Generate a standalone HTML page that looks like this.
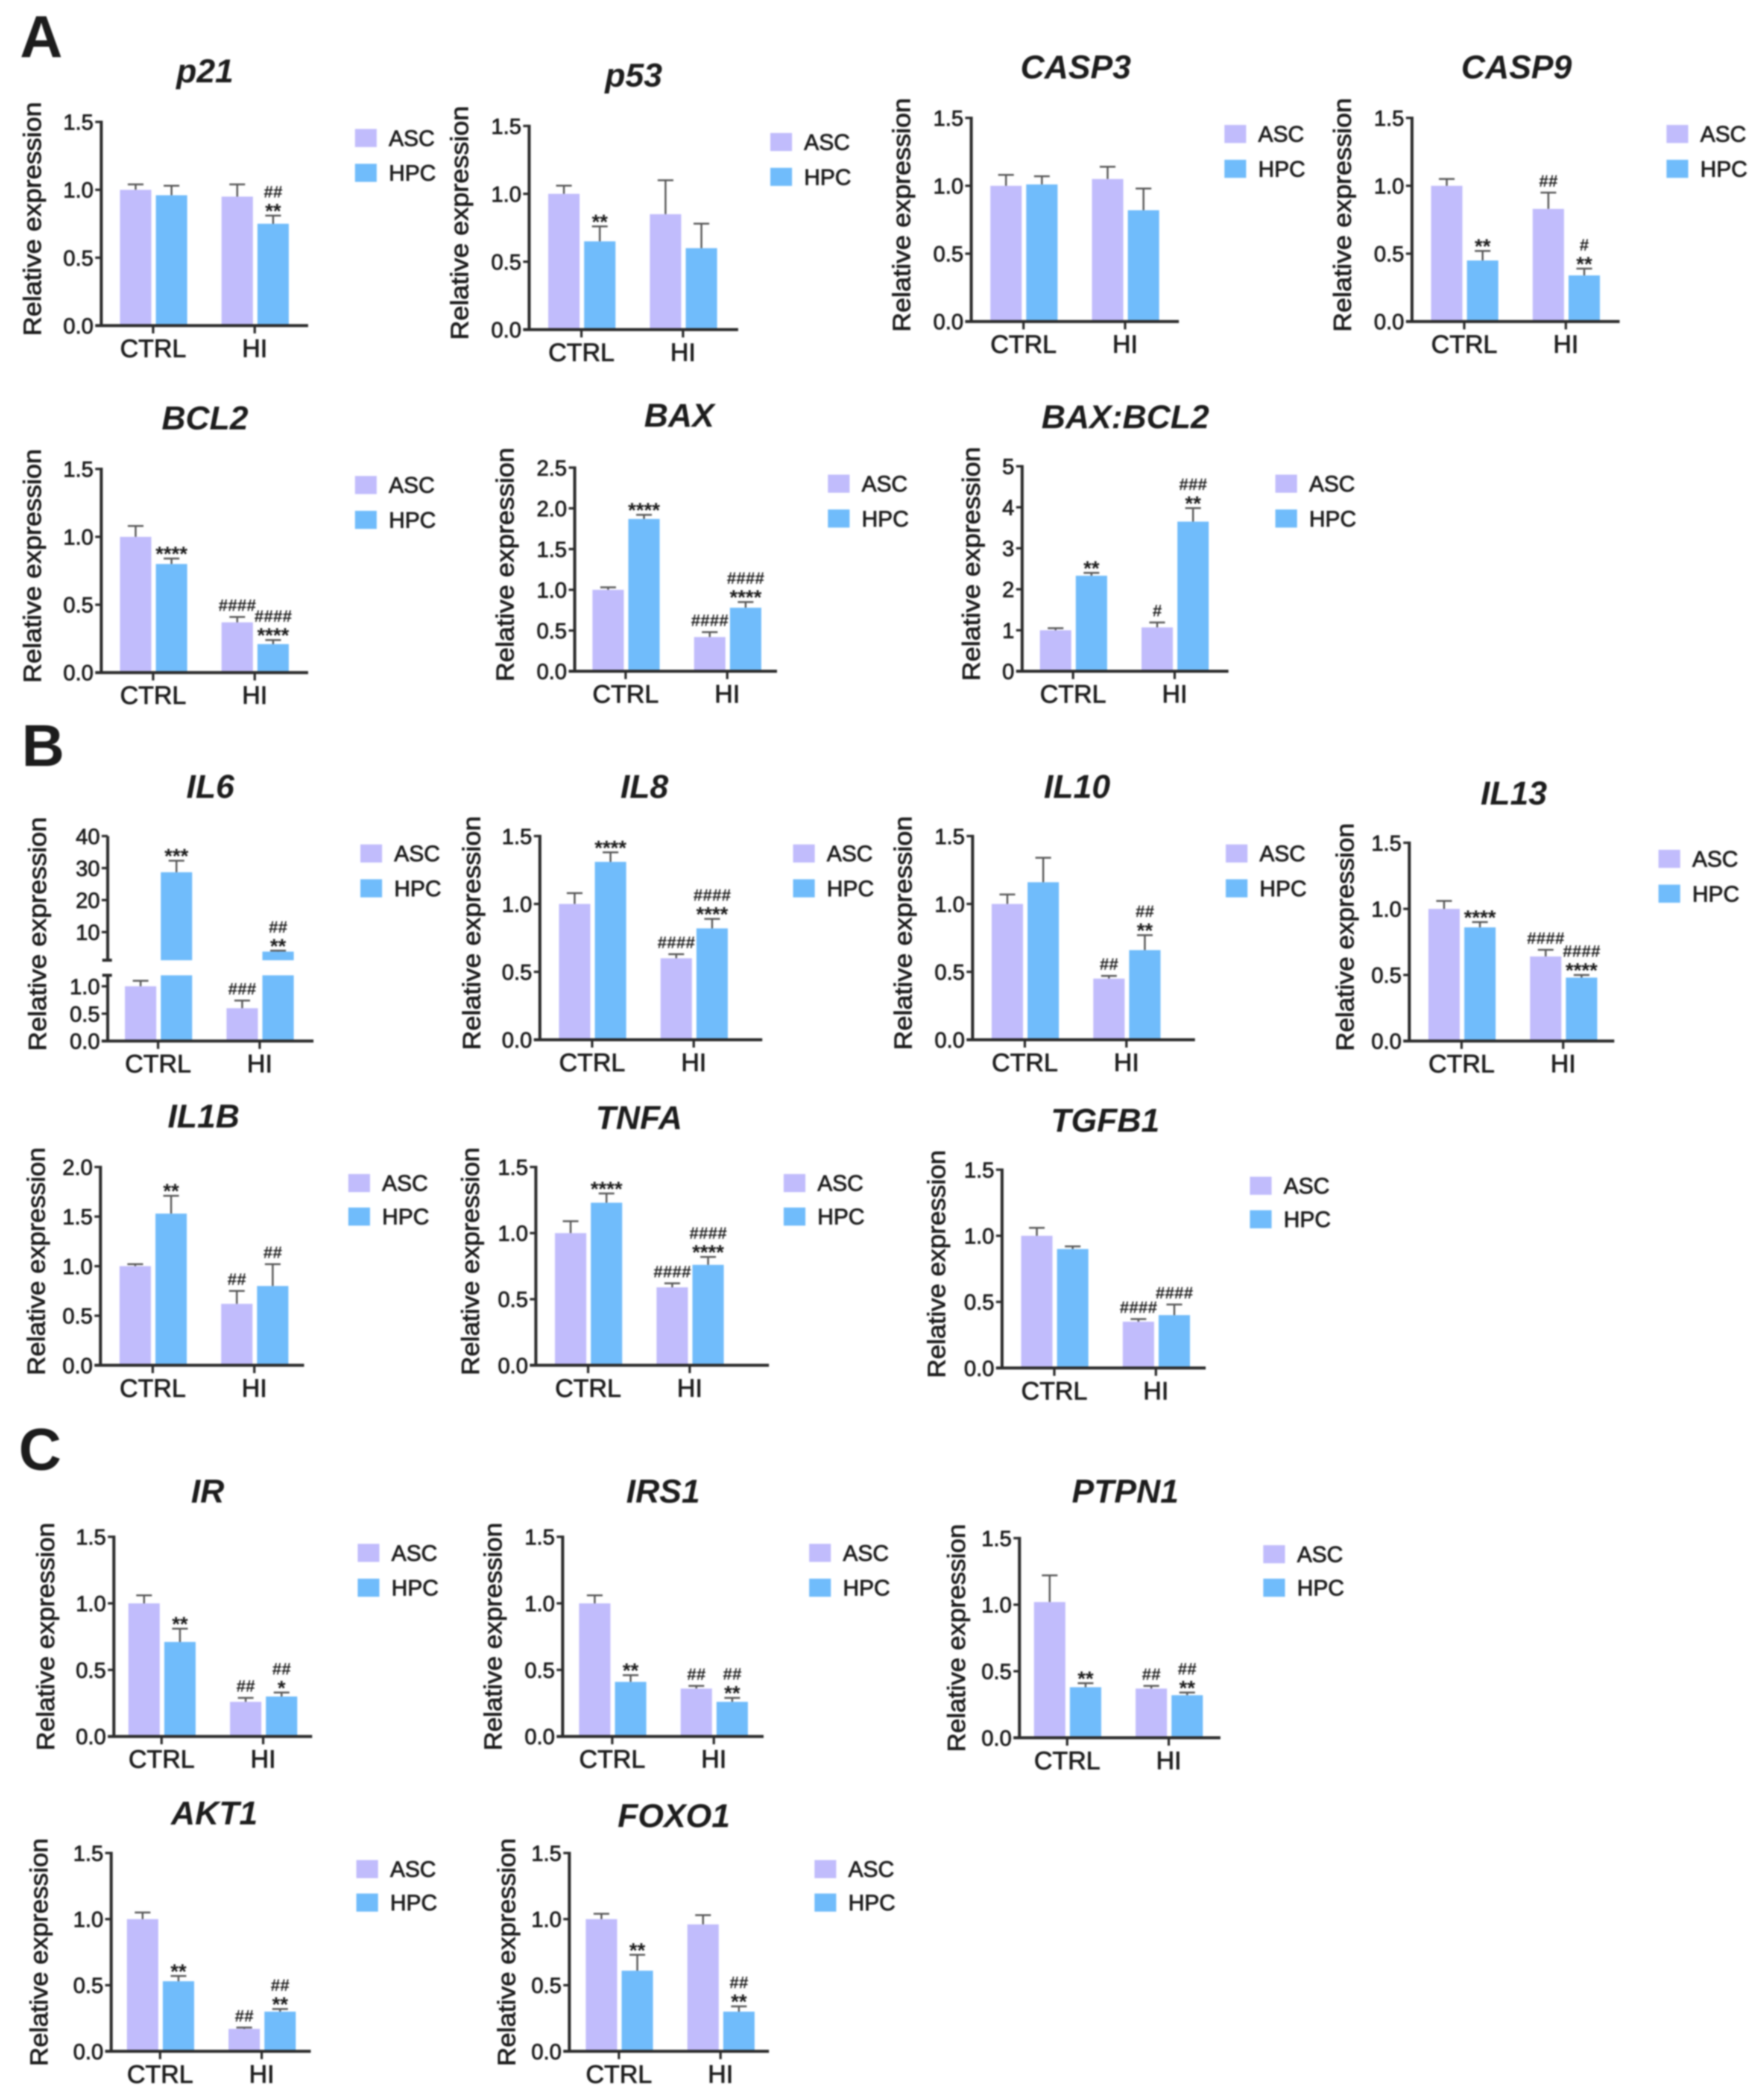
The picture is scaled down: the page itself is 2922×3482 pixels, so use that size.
<!DOCTYPE html>
<html lang="en">
<head>
<meta charset="utf-8">
<title>Relative expression bar charts</title>
<style>
html,body{margin:0;padding:0;background:#fff;width:2922px;height:3482px;overflow:hidden}
#figure{display:block;filter:blur(1.2px)}
text{font-family:"Liberation Sans",sans-serif;fill:#1c1c1c}
.lab{stroke:#1c1c1c;stroke-width:1px}
</style>
</head>
<body>
<svg id="figure" xmlns="http://www.w3.org/2000/svg" width="2922" height="3482" viewBox="0 0 2922 3482">
  <text x="33" y="95" font-size="98" font-weight="700">A</text>
  <text x="36" y="1270" font-size="98" font-weight="700">B</text>
  <text x="31" y="2437" font-size="98" font-weight="700">C</text>
</svg>
<script>
// ---- chart data ----
const groupLabels = ['CTRL', 'HI'];
const seriesLabels = ['ASC', 'HPC'];
const yAxisTitle = 'Relative expression';
const genes = ['p21','p53','CASP3','CASP9','BCL2','BAX','BAX:BCL2','IL6','IL8','IL10','IL13','IL1B','TNFA','TGFB1','IR','IRS1','PTPN1','AKT1','FOXO1'];
const ascMeans = [[1,.95],[1,.85],[1,1.05],[1,.83],[1,.37],[1,.42],[1,1.07],[1,.6],[1,.6],[1,.45],[1,.64],[1,.62],[1,.59],[1,.35],[1,.26],[1,.36],[1.02,.37],[1,.17],[1,.96]];
const hpcMeans = [[.96,.75],[.65,.6],[1.01,.82],[.45,.34],[.8,.21],[1.87,.78],[2.33,3.65],[28.7,3.9],[1.31,.82],[1.16,.66],[.86,.48],[1.53,.8],[1.23,.76],[.9,.4],[.71,.3],[.41,.26],[.38,.32],[.53,.3],[.61,.3]];
const ascErrors = [[.04,.09],[.06,.25],[.08,.09],[.05,.12],[.08,.04],[.03,.06],[.05,.12],[.1,.14],[.08,.03],[.07,.02],[.06,.05],[.02,.13],[.09,.03],[.06,.02],[.06,.03],[.06,.02],[.2,.02],[.05,.01],[.04,.07]];
const hpcErrors = [[.07,.06],[.11,.18],[.06,.16],[.07,.05],[.04,.03],[.05,.07],[.07,.33],[3.6,.3],[.07,.07],[.18,.11],[.04,.02],[.18,.22],[.07,.06],[.02,.08],[.1,.03],[.05,.03],[.03,.02],[.04,.02],[.12,.04]];
const ascMarks = [['',''],['',''],['',''],['','##'],['','####'],['','####'],['','#'],['','###'],['','####'],['','##'],['','####'],['','##'],['','####'],['','####'],['','##'],['','##'],['','##'],['','##'],['','']];
const hpcMarks = [['','**|##'],['**',''],['',''],['**','**|#'],['****','****|####'],['****','****|####'],['**','**|###'],['***','**|##'],['****','****|####'],['','**|##'],['****','****|####'],['**','##'],['****','****|####'],['','####'],['**','*|##'],['**','**|##'],['**','**|##'],['**','**|##'],['**','**|##']];
const tickLabelsDefault = ['0.0','0.5','1.0','1.5'];
const tickLabelsBax = ['0.0','0.5','1.0','1.5','2.0','2.5'];
const tickLabelsRatio = ['0','1','2','3','4','5'];
const tickLabelsIl1b = ['0.0','0.5','1.0','1.5','2.0'];
const tickLabelsBrokenLow = ['0.0','0.5','1.0'];
const tickLabelsBrokenHigh = ['10','20','30','40'];
const brokenAxisLimits = [1.2, 40];

// ---- layout (separate from data), in units of the page scale ----
const unit = 2.2216;
const panelLayout = [
 {ax:75.6,cx:114.3,end:230,top:91,y0:243,title:153,ty:53,leg:265,ly:[103,129],yl:24},
 {ax:395,cx:434,end:551,top:94,y0:246,title:473,ty:56,leg:575,ly:[106,132],yl:343},
 {ax:725,cx:764,end:880,top:88,y0:240,title:803,ty:50,leg:914,ly:[100,126],yl:673},
 {ax:1054,cx:1093,end:1209,top:88,y0:240,title:1132,ty:50,leg:1244,ly:[100,126],yl:1002},
 {ax:75.6,cx:114.3,end:230,top:350,y0:502,title:153,ty:312,leg:265,ly:[362,388],yl:24},
 {ax:429,cx:467,end:580,top:349,y0:501,title:507,ty:310,leg:618,ly:[361,387],yl:377},
 {ax:763,cx:801,end:917,top:348,y0:501,title:840,ty:311,leg:952,ly:[361,387],yl:725},
 {ax:80.4,cx:118,end:234,top:624,y0:777,title:157,ty:587,leg:269,ly:[637,663],yl:28,broken:true},
 {ax:403,cx:442,end:569,top:624,y0:776,title:481,ty:587,leg:592,ly:[637,663],yl:352},
 {ax:726,cx:765,end:892,top:624,y0:776,title:804,ty:587,leg:915,ly:[637,663],yl:674},
 {ax:1052,cx:1091,end:1205,top:629,y0:777,title:1130,ty:592,leg:1238,ly:[641,667],yl:1004,ytLen:378},
 {ax:75,cx:114,end:227,top:871,y0:1019,title:152,ty:833,leg:260,ly:[883,908],yl:27,ytLen:378},
 {ax:400,cx:439,end:574,top:871,y0:1019,title:477,ty:834,leg:585,ly:[883,908],yl:351,ytLen:378},
 {ax:748,cx:787,end:900,top:873,y0:1021,title:825,ty:836,leg:933,ly:[885,910],yl:699,ytLen:378},
 {ax:85,cx:120.6,end:233,top:1147,y0:1296,title:155,ty:1113,leg:267,ly:[1159,1185],yl:34,ytLen:378,ytShift:8},
 {ax:420,cx:457,end:570,top:1147,y0:1296,title:495,ty:1113,leg:604,ly:[1159,1185],yl:368,ytLen:378,ytShift:8},
 {ax:761,cx:796.6,end:911,top:1148,y0:1297,title:840,ty:1113,leg:943,ly:[1160,1185],yl:714,ytLen:378,ytShift:8},
 {ax:83,cx:119.5,end:232,top:1383,y0:1531,title:160,ty:1353,leg:266,ly:[1395,1420],yl:29,ytLen:378,ytShift:8},
 {ax:425,cx:462,end:574,top:1383,y0:1531,title:503,ty:1355,leg:608,ly:[1395,1420],yl:378,ytLen:378,ytShift:8}
];
const colors = {asc:'#c1bcfc', hpc:'#70bcfb', axis:'#2b2b2b', err:'#555'};
const barWidth = 52, barTickOffsets = [-55, 4.5], groupSpacing = 168.5;

const svg = document.getElementById('figure');
const NS = 'http://www.w3.org/2000/svg';
function make(tag, props, parent, text) {
  const el = document.createElementNS(NS, tag);
  for (const key in props) el.setAttribute(key, props[key]);
  if (text !== undefined) el.textContent = text;
  parent.appendChild(el);
  return el;
}
function tickSet(i) {
  const g = genes[i];
  if (g === 'BAX') return tickLabelsBax;
  if (g === 'BAX:BCL2') return tickLabelsRatio;
  if (g === 'IL1B') return tickLabelsIl1b;
  return tickLabelsDefault;
}

genes.forEach(function (gene, i) {
  const L = panelLayout[i];
  const ax = L.ax * unit, y0 = L.y0 * unit, top = L.top * unit;
  const groupX = function (g) { return L.cx * unit + g * groupSpacing; };
  const panel = make('g', {}, svg);
  
  

  let yScale, ticks;
  if (L.broken) {
    const lowLimit = brokenAxisLimits[0], highLimit = brokenAxisLimits[1];
    const lowTop = y0 - 109, highBottom = y0 - 134;
    yScale = function (v) {
      if (v <= lowLimit) return y0 - v / lowLimit * (y0 - lowTop);
      return highBottom - (v - lowLimit) / (highLimit - lowLimit) * (highBottom - top);
    };
    ticks = tickLabelsBrokenLow.concat(tickLabelsBrokenHigh);
  } else {
    ticks = tickSet(i);
    const maxV = parseFloat(ticks[ticks.length - 1]);
    yScale = function (v) { return y0 - v / maxV * (y0 - top); };
  }

  // bars and error bars
  [0, 1].forEach(function (s) {
    const means = s === 0 ? ascMeans[i] : hpcMeans[i];
    const errs = s === 0 ? ascErrors[i] : hpcErrors[i];
    const marks = s === 0 ? ascMarks[i] : hpcMarks[i];
    means.forEach(function (v, g) {
      const x = groupX(g) + barTickOffsets[s];
      const cx = x + barWidth / 2;
      const yv = yScale(v), ye = yScale(v + errs[g]);
      const stem = make('line', {x1:cx, x2:cx, y1:yv, y2:ye, stroke:colors.err, 'stroke-width':3}, panel);
      
      
      const cap = make('line', {x1:cx-13, x2:cx+13, y1:ye, y2:ye, stroke:colors.err, 'stroke-width':3}, panel);
      
      
      if (L.broken && v > brokenAxisLimits[0]) {
        const low = make('rect', {x:x, y:y0-109, width:barWidth, height:109, fill:colors.hpc}, panel);
        
        
        const up = make('rect', {x:x, y:yv, width:barWidth, height:(y0-134)-yv, fill:colors.hpc}, panel);
        
        
      } else {
        const bar = make('rect', {x:x, y:yv, width:barWidth, height:y0-yv, fill:s===0?colors.asc:colors.hpc}, panel);
        
        
      }
      if (marks[g]) {
        let cy = ye - 16;
        marks[g].split('|').forEach(function (m, lineIndex) {
          const star = m[0] === '*';
          const hashDrop = lineIndex === 0 ? 6 : 11;
          const t = make('text', {x:cx, y:star ? cy + 20 : cy + hashDrop, 'text-anchor':'middle', 'font-size':star ? 34 : 28, 'font-weight':700, fill:star ? '#333' : '#1c1c1c'}, panel, m);
          
          
          cy -= 25;
        });
      }
    });
  });

  // y axis
  const axisStyle = {stroke:colors.axis, 'stroke-width':5};
  if (L.broken) {
    const a1 = make('line', Object.assign({x1:ax, x2:ax, y1:y0, y2:y0-109}, axisStyle), panel);
    
    
    const a2 = make('line', Object.assign({x1:ax, x2:ax, y1:y0-134, y2:top}, axisStyle), panel);
    
    
    [y0-109, y0-134].forEach(function (by) {
      const b = make('line', Object.assign({x1:ax-9, x2:ax+7, y1:by, y2:by}, axisStyle), panel);
      
      
    });
  } else {
    const a = make('line', Object.assign({x1:ax, x2:ax, y1:y0, y2:top-2}, axisStyle), panel);
    
    
  }
  ticks.forEach(function (label) {
    const ty = yScale(parseFloat(label));
    const tick = make('line', {x1:ax-10, x2:ax, y1:ty, y2:ty, stroke:colors.axis, 'stroke-width':4}, panel);
    
    
    const tl = make('text', {x:ax-13, y:ty+13, 'text-anchor':'end', 'font-size':36, 'class':'lab'}, panel, label);
    
    
  });

  // x axis
  const xa = make('line', Object.assign({x1:ax-10, x2:L.end*unit, y1:y0, y2:y0}, axisStyle), panel);
  
  
  groupLabels.forEach(function (label, g) {
    const gx = groupX(g);
    const tick = make('line', {x1:gx, x2:gx, y1:y0, y2:y0+13, stroke:colors.axis, 'stroke-width':4}, panel);
    
    
    const tl = make('text', {x:gx, y:y0+52, 'text-anchor':'middle', 'font-size':42, 'class':'lab'}, panel, label);
    
    
  });

  // title
  const title = make('text', {x:L.title*unit, y:L.ty*unit+19, 'text-anchor':'middle', 'font-size':55, 'font-weight':700, 'font-style':'italic'}, panel, gene);
  
  

  // y axis title
  const yx = L.yl * unit, yc = (y0 + (L.broken ? y0 - 339 : top)) / 2 - 8 + (L.ytShift || 0);
  const yt = make('text', {x:yx+14, y:yc, 'text-anchor':'middle', 'font-size':41, textLength:L.ytLen || 388, lengthAdjust:'spacingAndGlyphs', transform:'rotate(-90 '+(yx+14)+' '+yc+')', 'class':'lab'}, panel, yAxisTitle);
  
  

  // legend
  seriesLabels.forEach(function (label, s) {
    const lx = L.leg * unit, ly = L.ly[s] * unit;
    const sw = make('rect', {x:lx, y:ly-15, width:36, height:30, fill:s===0?colors.asc:colors.hpc}, panel);
    
    
    const lt = make('text', {x:lx+56, y:ly+13, 'font-size':37, 'class':'lab'}, panel, label);
    
    
  });
});
</script>
</body>
</html>
